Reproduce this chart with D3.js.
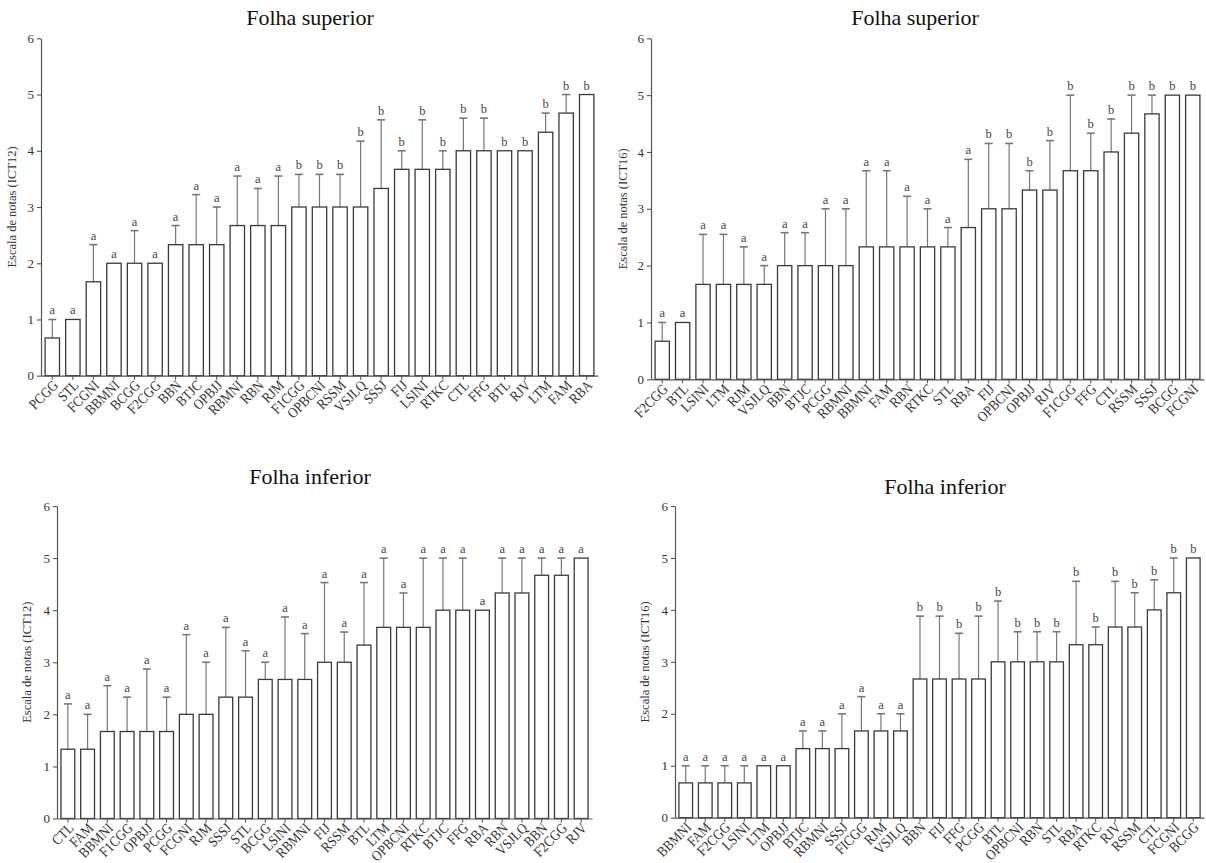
<!DOCTYPE html>
<html>
<head>
<meta charset="utf-8">
<script src="https://cdn.jsdelivr.net/npm/d3@7"></script>
<style>
  body { margin: 0; background: #fff; }
  svg { display: block; }
  text { font-family: "Liberation Serif", "Times New Roman", serif; }
</style>
</head>
<body>
<svg id="chart" width="1206" height="863"></svg>
<script>
// ---- Folha superior, ICT12 ----
const supIct12Cats = ["PCGG","STL","FCGNI","BBMNI","BCGG","F2CGG","BBN","BTJC","OPBJJ","RBMNI","RBN","RJM","F1CGG","OPBCNI","RSSM","VSJLQ","SSSJ","FIJ","LSINI","RTKC","CTL","FFG","BTL","RJV","LTM","FAM","RBA"];
const supIct12Means = [0.67,1.0,1.67,2.0,2.0,2.0,2.33,2.33,2.33,2.67,2.67,2.67,3.0,3.0,3.0,3.0,3.33,3.67,3.67,3.67,4.0,4.0,4.0,4.0,4.33,4.67,5.0];
const supIct12Upper = [1.0,null,2.33,null,2.58,null,2.67,3.22,3.0,3.55,3.33,3.55,3.58,3.58,3.58,4.17,4.55,4.0,4.55,4.0,4.58,4.58,null,null,4.67,5.0,null];
const supIct12Letters = ["a","a","a","a","a","a","a","a","a","a","a","a","b","b","b","b","b","b","b","b","b","b","b","b","b","b","b"];

// ---- Folha superior, ICT16 ----
const supIct16Cats = ["F2CGG","BTL","LSINI","LTM","RJM","VSJLQ","BBN","BTJC","PCGG","RBMNI","BBMNI","FAM","RBN","RTKC","STL","RBA","FIJ","OPBCNI","OPBJJ","RJV","F1CGG","FFG","CTL","RSSM","SSSJ","BCGG","FCGNI"];
const supIct16Means = [0.67,1.0,1.67,1.67,1.67,1.67,2.0,2.0,2.0,2.0,2.33,2.33,2.33,2.33,2.33,2.67,3.0,3.0,3.33,3.33,3.67,3.67,4.0,4.33,4.67,5.0,5.0];
const supIct16Upper = [1.0,null,2.55,2.55,2.33,2.0,2.58,2.58,3.0,3.0,3.67,3.67,3.22,3.0,2.67,3.87,4.15,4.15,3.67,4.2,5.0,4.33,4.58,5.0,5.0,null,null];
const supIct16Letters = ["a","a","a","a","a","a","a","a","a","a","a","a","a","a","a","a","b","b","b","b","b","b","b","b","b","b","b"];

// ---- Folha inferior, ICT12 ----
const infIct12Cats = ["CTL","FAM","BBMNI","F1CGG","OPBJJ","PCGG","FCGNI","RJM","SSSJ","STL","BCGG","LSINI","RBMNI","FIJ","RSSM","BTL","LTM","OPBCNI","RTKC","BTJC","FFG","RBA","RBN","VSJLQ","BBN","F2CGG","RJV"];
const infIct12Means = [1.33,1.33,1.67,1.67,1.67,1.67,2.0,2.0,2.33,2.33,2.67,2.67,2.67,3.0,3.0,3.33,3.67,3.67,3.67,4.0,4.0,4.0,4.33,4.33,4.67,4.67,5.0];
const infIct12Upper = [2.2,2.0,2.55,2.33,2.87,2.33,3.53,3.0,3.67,3.22,3.0,3.87,3.55,4.53,3.58,4.53,5.0,4.33,5.0,5.0,5.0,null,5.0,5.0,5.0,5.0,null];
const infIct12Letters = ["a","a","a","a","a","a","a","a","a","a","a","a","a","a","a","a","a","a","a","a","a","a","a","a","a","a","a"];

// ---- Folha inferior, ICT16 ----
const infIct16Cats = ["BBMNI","FAM","F2CGG","LSINI","LTM","OPBJJ","BTJC","RBMNI","SSSJ","FICGG","RJM","VSJLQ","BBN","FIJ","FFG","PCGG","BTL","OPBCNI","RBN","STL","RBA","RTKC","RJV","RSSM","CTL","FCGNI","BCGG"];
const infIct16Means = [0.67,0.67,0.67,0.67,1.0,1.0,1.33,1.33,1.33,1.67,1.67,1.67,2.67,2.67,2.67,2.67,3.0,3.0,3.0,3.0,3.33,3.33,3.67,3.67,4.0,4.33,5.0];
const infIct16Upper = [1.0,1.0,1.0,1.0,null,null,1.67,1.67,2.0,2.33,2.0,2.0,3.88,3.88,3.55,3.88,4.17,3.58,3.58,3.58,4.55,3.67,4.55,4.33,4.58,5.0,null];
const infIct16Letters = ["a","a","a","a","a","a","a","a","a","a","a","a","b","b","b","b","b","b","b","b","b","b","b","b","b","b","b"];

const yTicks = [0,1,2,3,4,5,6];

const panels = [
  { title: "Folha superior", ylab: "Escala de notas (ICT12)",
    cats: supIct12Cats, means: supIct12Means, upper: supIct12Upper, letters: supIct12Letters,
    left: 41, right: 598, yBottom: 375.7, yTop: 38.3, titleX: 310, titleY: 25, ylabX: 16 },
  { title: "Folha superior", ylab: "Escala de notas (ICT16)",
    cats: supIct16Cats, means: supIct16Means, upper: supIct16Upper, letters: supIct16Letters,
    left: 651, right: 1204, yBottom: 379.3, yTop: 38.3, titleX: 915, titleY: 25, ylabX: 627 },
  { title: "Folha inferior", ylab: "Escala de notas (ICT12)",
    cats: infIct12Cats, means: infIct12Means, upper: infIct12Upper, letters: infIct12Letters,
    left: 57, right: 592, yBottom: 818.5, yTop: 506, titleX: 310, titleY: 484, ylabX: 31 },
  { title: "Folha inferior", ylab: "Escala de notas (ICT16)",
    cats: infIct16Cats, means: infIct16Means, upper: infIct16Upper, letters: infIct16Letters,
    left: 675, right: 1204, yBottom: 817.7, yTop: 506, titleX: 945, titleY: 494, ylabX: 649 }
];

const svg = d3.select("#chart");
const axisColor = "#555";

panels.forEach(p => {
  const g = svg.append("g");

  const x = d3.scaleBand()
    .domain(p.cats)
    .range([p.left, p.right])
    .paddingInner(0.3)
    .paddingOuter(0.2);

  const y = d3.scaleLinear()
    .domain([0, 6])
    .range([p.yBottom, p.yTop]);

  // title
  g.append("text")
    .attr("x", p.titleX)
    .attr("y", p.titleY)
    .attr("text-anchor", "middle")
    .attr("font-size", 22)
    .attr("fill", "#111")
    .text(p.title);

  // y axis label
  g.append("text")
    .attr("transform", `translate(${p.ylabX},${(p.yTop + p.yBottom) / 2}) rotate(-90)`)
    .attr("text-anchor", "middle")
    .attr("font-size", 12.5)
    .attr("fill", "#333")
    .text(p.ylab);

  const rows = p.cats.map((c, i) => ({ cat: c, mean: p.means[i], upper: p.upper[i], letter: p.letters[i] }));

  // error bars (drawn behind the bars, only the upper half shows)
  const err = g.append("g").attr("stroke", "#777").attr("stroke-width", 1.2);
  rows.filter(d => d.upper !== null).forEach(d => {
    const cx = x(d.cat) + x.bandwidth() / 2;
    err.append("line")
      .attr("x1", cx).attr("x2", cx)
      .attr("y1", y(d.mean)).attr("y2", y(d.upper));
    err.append("line")
      .attr("x1", cx - 4).attr("x2", cx + 4)
      .attr("y1", y(d.upper)).attr("y2", y(d.upper))
      .attr("stroke-width", 1.6);
  });

  // bars
  g.append("g")
    .selectAll("rect")
    .data(rows)
    .join("rect")
    .attr("x", d => x(d.cat))
    .attr("y", d => y(d.mean))
    .attr("width", x.bandwidth())
    .attr("height", d => y(0) - y(d.mean))
    .attr("fill", "#fff")
    .attr("stroke", "#3a3a3a")
    .attr("stroke-width", 1.3);

  // significance letters
  g.append("g")
    .selectAll("text")
    .data(rows)
    .join("text")
    .attr("x", d => x(d.cat) + x.bandwidth() / 2)
    .attr("y", d => y(d.upper !== null ? Math.max(d.upper, d.mean) : d.mean) - 5)
    .attr("text-anchor", "middle")
    .attr("font-size", 12.5)
    .attr("fill", "#444")
    .text(d => d.letter);

  // y axis
  const yAxis = g.append("g")
    .attr("transform", `translate(${p.left},0)`)
    .call(d3.axisLeft(y).tickValues(yTicks).tickFormat(d3.format("d")).tickSize(4).tickSizeOuter(0));
  yAxis.selectAll("text").attr("font-size", 13).attr("fill", "#333")
    .attr("font-family", "'Liberation Serif', serif");

  // x axis with rotated, slightly condensed category labels
  const xAxis = g.append("g")
    .attr("transform", `translate(0,${p.yBottom})`)
    .call(d3.axisBottom(x).tickSize(4).tickSizeOuter(0));
  xAxis.selectAll("text")
    .attr("font-size", 14.5)
    .attr("fill", "#333")
    .attr("font-family", "'Liberation Serif', serif")
    .attr("text-anchor", "end")
    .attr("y", 0)
    .attr("dx", 0)
    .attr("dy", "0.35em")
    .attr("transform", "translate(3,7) rotate(-45) scale(0.88,1)");

  [yAxis, xAxis].forEach(a => {
    a.select(".domain").attr("stroke", axisColor).attr("stroke-width", 1.2);
    a.selectAll(".tick line").attr("stroke", axisColor).attr("stroke-width", 1.1);
  });
});
</script>
</body>
</html>
